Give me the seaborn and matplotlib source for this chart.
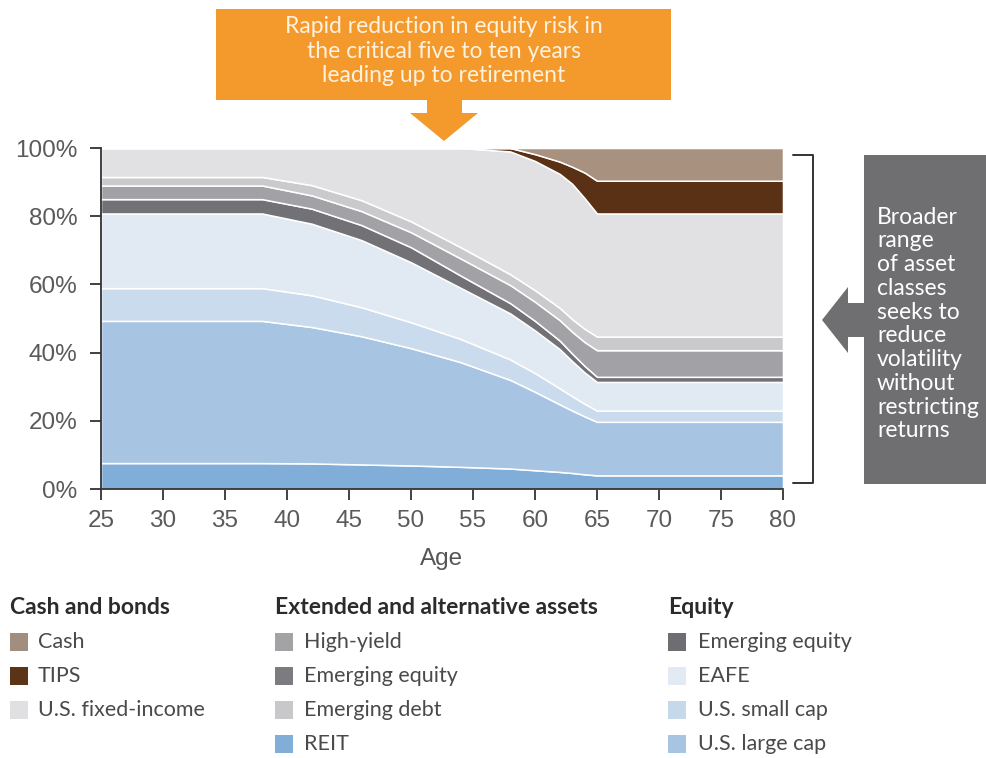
import numpy as np
import matplotlib
matplotlib.use('Agg')
import matplotlib.pyplot as plt
import matplotlib.transforms as mtransforms
from matplotlib.patches import Rectangle, Polygon
import seaborn as sns

ages = [25, 30, 35, 38, 42, 46, 50, 54, 58, 60, 62, 63, 64, 65, 70, 75, 80]

# layer shares (%), bottom to top
reit      = [7.6, 7.6, 7.6, 7.6, 7.5, 7.2, 6.9, 6.5, 6.0, 5.5, 5.0, 4.7, 4.3, 4.0, 4.0, 4.0, 4.0]
large_cap = [41.7, 41.7, 41.7, 41.7, 40.0, 37.6, 34.4, 30.7, 26.0, 23.0, 19.8, 18.3, 17.0, 15.7, 15.7, 15.7, 15.7]
small_cap = [9.6, 9.6, 9.6, 9.6, 9.3, 8.5, 7.6, 6.8, 6.0, 5.5, 4.7, 4.2, 3.7, 3.3, 3.3, 3.3, 3.3]
eafe      = [21.9, 21.9, 21.9, 21.9, 21.0, 19.7, 17.6, 15.0, 13.5, 12.5, 11.5, 10.3, 9.2, 8.4, 8.4, 8.4, 8.4]
em_equity = [4.2, 4.2, 4.2, 4.2, 4.4, 4.4, 4.4, 3.6, 3.0, 2.8, 2.5, 2.2, 1.9, 1.5, 1.5, 1.5, 1.5]
high_yld  = [4.0, 4.0, 4.0, 4.0, 3.9, 4.1, 4.4, 5.0, 5.3, 5.6, 6.0, 6.4, 7.0, 7.8, 7.8, 7.8, 7.8]
em_debt   = [2.5, 2.5, 2.5, 2.5, 3.0, 3.2, 3.2, 3.3, 3.2, 3.4, 3.6, 3.7, 3.9, 4.0, 4.0, 4.0, 4.0]
fixed_inc = [8.5, 8.5, 8.5, 8.5, 10.9, 15.3, 21.5, 29.1, 36.0, 37.9, 39.3, 39.7, 38.3, 36.1, 36.1, 36.1, 36.1]
tips      = [0, 0, 0, 0, 0, 0, 0, 0, 1.0, 2.0, 3.6, 5.0, 7.5, 9.6, 9.6, 9.6, 9.6]
cash      = [0, 0, 0, 0, 0, 0, 0, 0, 0, 1.8, 4.0, 5.5, 7.2, 9.6, 9.6, 9.6, 9.6]

layers = [reit, large_cap, small_cap, eafe, em_equity, high_yld, em_debt, fixed_inc, tips, cash]
layer_colors = ['#80aed9', '#a7c4e2', '#c9dbed', '#e1e9f3', '#717176', '#a2a2a6',
                '#cacacd', '#e1e1e3', '#5a3114', '#a8917f']

y_ticks = [0, 20, 40, 60, 80, 100]
x_ticks = [25, 30, 35, 40, 45, 50, 55, 60, 65, 70, 75, 80]

legend_groups = ['Cash and bonds', 'Extended and alternative assets', 'Equity']
cash_bonds_labels = ['Cash', 'TIPS', 'U.S. fixed-income']
cash_bonds_colors = ['#a28e7e', '#5b3316', '#e0e0e2']
extended_labels = ['High-yield', 'Emerging equity', 'Emerging debt', 'REIT']
extended_colors = ['#a3a3a6', '#7c7c80', '#c8c8cb', '#80aed9']
equity_labels = ['Emerging equity', 'EAFE', 'U.S. small cap', 'U.S. large cap']
equity_colors = ['#6e6e72', '#e2eaf3', '#c6d9eb', '#a7c4e2']

top_note = 'Rapid reduction in equity risk in\nthe critical five to ten years\nleading up to retirement'
side_note = 'Broader\nrange\nof asset\nclasses\nseeks to\nreduce\nvolatility\nwithout\nrestricting\nreturns'

sns.set_theme(style='ticks')
plt.rcParams['font.family'] = ['Liberation Sans', 'DejaVu Sans']

W, H = 987, 758
fig = plt.figure(figsize=(W / 100, H / 100), dpi=100)
px = mtransforms.Affine2D().scale(1 / W, -1 / H).translate(0, 1) + fig.transFigure

ax = fig.add_axes([101 / W, 1 - 489 / H, 682 / W, 341 / H])
ax.stackplot(ages, *layers, colors=layer_colors, edgecolor='white', linewidth=1.1)
ax.set_xlim(25, 80)
ax.set_ylim(0, 100)
ax.set_xticks(x_ticks)
ax.set_yticks(y_ticks)
ax.set_yticklabels([f'{v}%' for v in y_ticks])
ax.set_xlabel('Age', fontsize=17.5, color='#555555', labelpad=12)
ax.tick_params(axis='both', labelsize=17.5, colors='#333333', labelcolor='#5a5a5a',
               length=8, width=1.3, direction='out')
ax.tick_params(axis='x', pad=7)
ax.tick_params(axis='y', pad=9)
sns.despine(ax=ax)
for s in ['left', 'bottom']:
    ax.spines[s].set_color('#333333')
    ax.spines[s].set_linewidth(1.3)
ax.margins(0)

note_font = ['Lato', 'DejaVu Sans']

# orange call-out with downward arrow
fig.add_artist(Rectangle((216, 9), 455, 91, transform=px, color='#f49a2c', lw=0))
fig.add_artist(Polygon([(427, 99), (462, 99), (462, 113), (478, 113), (444, 141),
                        (410, 113), (427, 113)], closed=True, transform=px,
                       color='#f49a2c', lw=0))
fig.text(444, 51, top_note, transform=px, ha='center', va='center', fontsize=16.5,
         color='#fdf1df', linespacing=1.2, family=note_font)

# bracket
fig.add_artist(plt.Line2D([793, 813, 813, 793], [155, 155, 483, 483], transform=px,
                          color='#333333', lw=1.4))

# grey call-out with left arrow
fig.add_artist(Rectangle((864, 155), 123, 329, transform=px, color='#6f6f72', lw=0))
fig.add_artist(Polygon([(865, 303), (848, 303), (848, 287), (822, 320), (848, 353),
                        (848, 337), (865, 337)], closed=True, transform=px,
                       color='#6f6f72', lw=0))
fig.text(877, 324, side_note, transform=px, ha='left', va='center', fontsize=16.5,
         color='white', linespacing=1.16, family=note_font)

# legend in three groups
cols = [(10, 38), (275, 304), (668, 698)]
groups = [(cash_bonds_labels, cash_bonds_colors),
          (extended_labels, extended_colors),
          (equity_labels, equity_colors)]
for (xs, xt), title, (labs, cols_) in zip(cols, legend_groups, groups):
    fig.text(xs, 608, title, transform=px, ha='left', va='center', fontsize=16.5,
             fontweight='bold', color='#2b2b2b', family=note_font)
    for i, (lab, c) in enumerate(zip(labs, cols_)):
        yc = 642 + i * 34
        fig.add_artist(Rectangle((xs, yc - 9), 18, 18, transform=px, color=c, lw=0))
        fig.text(xt, yc, lab, transform=px, ha='left', va='center', fontsize=15.5,
                 color='#4a4a4a', family=note_font)

plt.savefig('out.png', dpi=100)
plt.close()
